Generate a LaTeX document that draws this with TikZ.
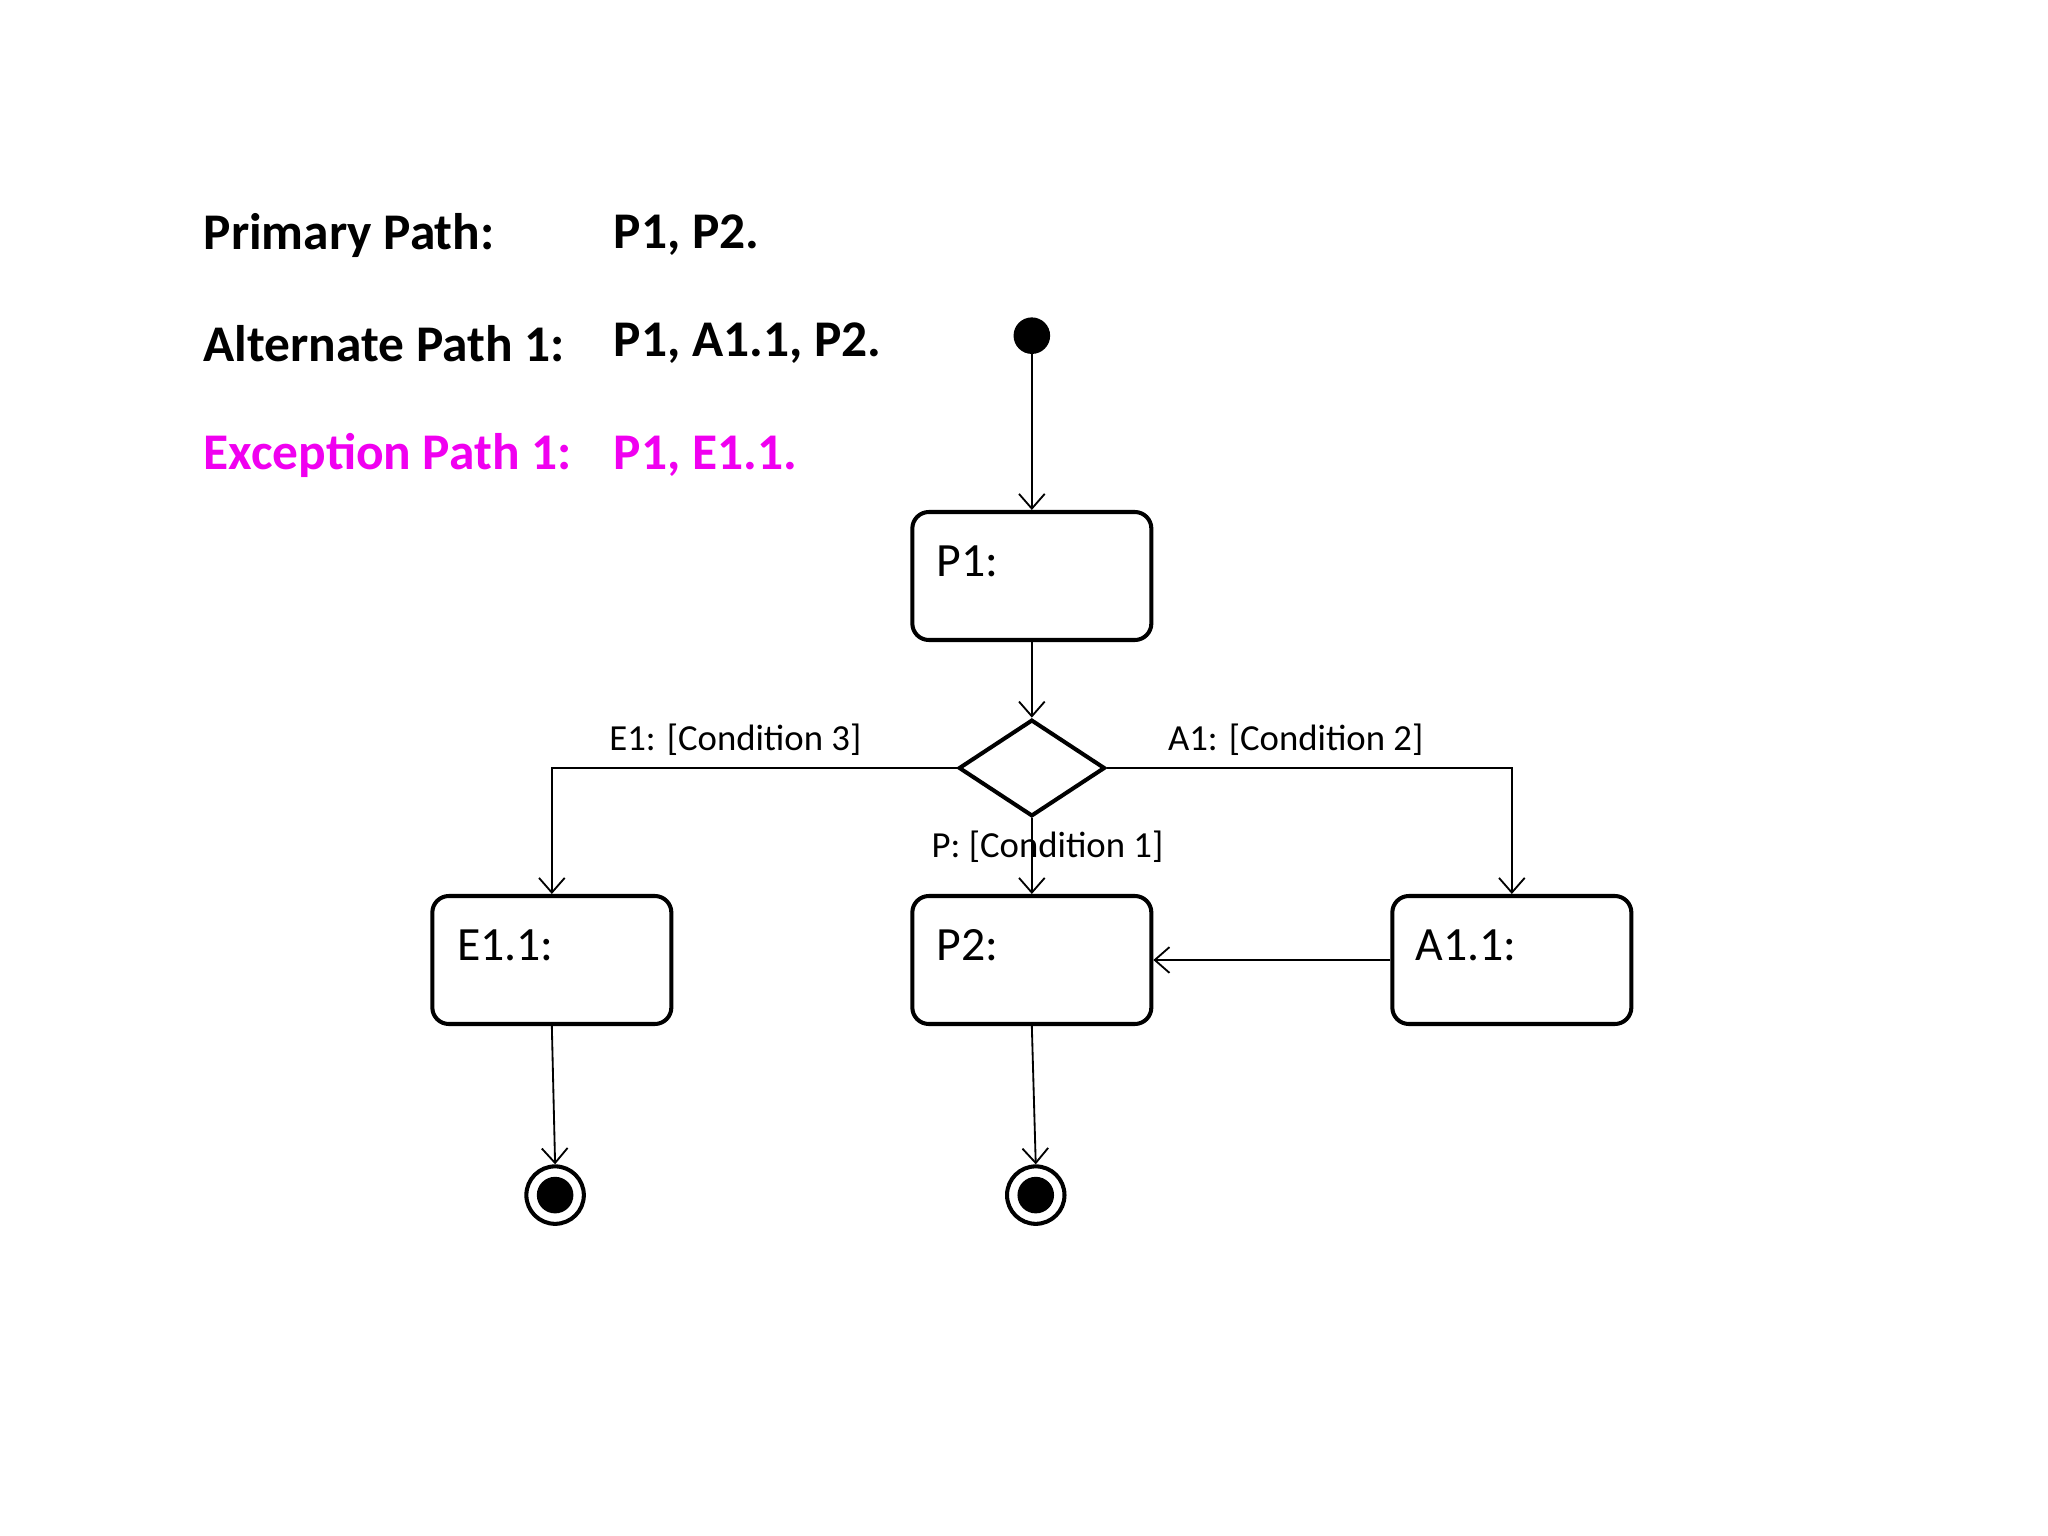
\documentclass[tikz,border=0pt]{standalone}
\usepackage{fontspec}
\setmainfont{Carlito}
\usetikzlibrary{shapes.geometric,arrows.meta}
\definecolor{mag}{RGB}{240,0,240}
\begin{document}
\begin{tikzpicture}[x=0.025cm,y=-0.025cm,
 box/.style={draw,line width=2.2pt,rounded corners=9pt,minimum width=183*0.025cm,minimum height=98*0.025cm},
 lab/.style={font=\fontsize{26}{30}\selectfont,anchor=west},
 el/.style={font=\fontsize{20}{24}\selectfont},
 hd/.style={font=\fontsize{28}{32}\selectfont\bfseries,anchor=west},
 arr/.style={draw,line width=1pt,-{Straight Barb[length=8pt,width=14pt]}}]
\useasboundingbox (0,0) rectangle (1568,1176);
\node[hd] (h1) at (151,180) {Primary Path:};
\node[hd] (h1b) at (465,180) {P1, P2.};
\node[hd] (h2) at (151,263) {Alternate Path 1:};
\node[hd] (h2b) at (465,263) {P1, A1.1, P2.};
\node[hd,text=mag] (h3) at (151,349) {Exception Path 1:};
\node[hd,text=mag] (h3b) at (465,349) {P1, E1.1.};
\node[circle,fill,inner sep=0,minimum size=28*0.025cm] (s) at (790,257) {};
\node[box] (P1) at (790,441) {};
\node[lab] at (712,430) {P1:};
\node[diamond,draw,line width=2.2pt,aspect=1.5,minimum width=112*0.025cm,minimum height=74*0.025cm,inner sep=0] (d) at (790,588) {};
\node[box] (E) at (422.5,735) {};
\node[lab] at (345,724) {E1.1:};
\node[box] (P2) at (790,735) {};
\node[lab] at (712,724) {P2:};
\node[box] (A) at (1157.5,735) {};
\node[lab] at (1079,724) {A1.1:};
\node[circle,draw,line width=2.2pt,inner sep=0,minimum size=44*0.025cm] (e1) at (425,915) {};
\node[circle,fill,inner sep=0,minimum size=28*0.025cm] at (e1) {};
\node[circle,draw,line width=2.2pt,inner sep=0,minimum size=44*0.025cm] (e2) at (793,915) {};
\node[circle,fill,inner sep=0,minimum size=28*0.025cm] at (e2) {};
\draw[arr] (s) -- (P1);
\draw[arr] (P1) -- (d.north);
\draw[arr] (d.west) -| (E.north);
\draw[arr] (d.east) -| (A.north);
\draw[arr] (d.south) -- (P2.north);
\draw[arr] (A.west) -- (P2.east);
\draw[arr] (E.south) -- (e1.north);
\draw[arr] (P2.south) -- (e2.north);
\node[el] (l1) at (563,566) {E1: [Condition 3]};
\node[el] (l2) at (992,566) {A1: [Condition 2]};
\node[el] (l3) at (802,648) {P: [Condition 1]};
\end{tikzpicture}
\end{document}
